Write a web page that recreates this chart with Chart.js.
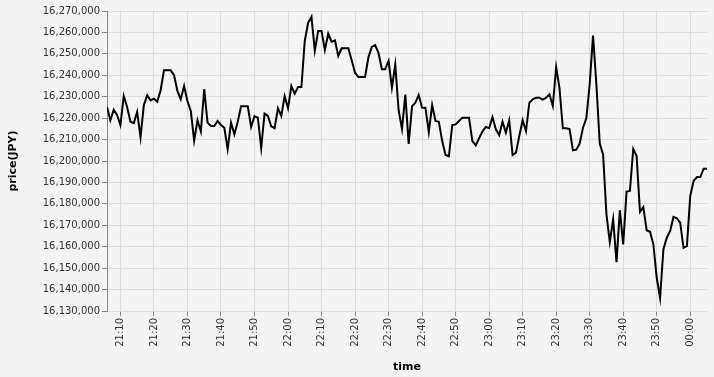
<!DOCTYPE html>
<html lang="ja">
<head>
  <meta charset="UTF-8" />
  <title>price(JPY)</title>
  <script src="https://cdn.jsdelivr.net/npm/chart.js"></script>
  <style>
    html, body {
      margin: 0;
      padding: 0;
      background: #f4f4f4;
      overflow: hidden;
    }
    canvas {
      display: block;
      background: #f4f4f4;
    }
  </style>
</head>
<body>
  <canvas id="chart" width="714" height="377"></canvas>

  <script>
    // 1分ごとの価格（21:06 から 00:05 まで）
    const startTime = '21:06';
    const prices = [
      16225200, 16219000, 16223900, 16221500, 16216800, 16230300, 16225200, 16218300, 16217700, 16223000,
      16211000, 16226100, 16230700, 16228300, 16229100, 16227700, 16233000, 16242300, 16242300, 16242300,
      16240100, 16232700, 16228800, 16235000, 16228000, 16223300, 16209500, 16219000, 16213700, 16233500,
      16217900, 16216300, 16216300, 16218700, 16216800, 16215500, 16205500, 16217900, 16212500, 16218300,
      16225500, 16225500, 16225500, 16215900, 16220900, 16220200, 16206000, 16222100, 16221000, 16216200,
      16215300, 16224600, 16221000, 16230300, 16224600, 16235000, 16231400, 16234500, 16234500, 16256000,
      16264500, 16267300, 16251500, 16260700, 16260700, 16251800, 16259400, 16255700, 16256300, 16249000,
      16252600, 16252600, 16252600, 16247000, 16241200, 16239200, 16239200, 16239200, 16248500, 16253200,
      16254100, 16250500, 16242800, 16242800, 16246700, 16234200, 16245000, 16223700, 16215000, 16231000,
      16208000, 16225500, 16227200, 16230800, 16224900, 16224900, 16213500, 16226100, 16218700, 16218300,
      16209300, 16202800, 16202200, 16216800, 16217100, 16218700, 16220200, 16220200, 16220200, 16209300,
      16207300, 16210600, 16213700, 16215900, 16215300, 16220500, 16214800, 16212100, 16218300, 16213200,
      16219000, 16202800, 16203900, 16211700, 16219000, 16214000, 16227200, 16228800, 16229500, 16229500,
      16228600, 16229500, 16231100, 16225700, 16243800, 16233900, 16215300, 16215300, 16214900, 16205000,
      16205300, 16208100, 16215500, 16219900, 16235800, 16258500, 16235800, 16208100, 16203100, 16175100,
      16162200, 16172800, 16152800, 16177000, 16161100, 16185700, 16186000, 16205600, 16202300, 16176300,
      16178500, 16167700, 16167000, 16161100, 16145500, 16136000, 16158800, 16164200, 16167300, 16173900,
      16173300, 16171200, 16159500, 16160300, 16183700, 16190700, 16192500, 16192500, 16196400, 16196400
    ];

    // x軸の目盛りラベル
    const xTickLabels = [
      '21:10', '21:20', '21:30', '21:40', '21:50', '22:00', '22:10', '22:20', '22:30',
      '22:40', '22:50', '23:00', '23:10', '23:20', '23:30', '23:40', '23:50', '00:00'
    ];
    const yMin = 16130000;
    const yMax = 16270000;
    const yStep = 10000;

    // "HH:MM" → 開始時刻からの分数（日付またぎ対応）
    function toMinutes(label) {
      const [h, m] = label.split(':').map(Number);
      return (h < 12 ? h + 24 : h) * 60 + m;
    }
    const start = toMinutes(startTime);
    const tickMap = {};
    xTickLabels.forEach(l => { tickMap[toMinutes(l) - start] = l; });

    const points = prices.map((p, i) => ({ x: i, y: p }));

    new Chart(document.getElementById('chart').getContext('2d'), {
      type: 'line',
      data: {
        datasets: [{
          data: points,
          borderColor: '#000',
          borderWidth: 2,
          pointRadius: 0,
          tension: 0,
          fill: false
        }]
      },
      options: {
        responsive: false,
        animation: false,
        layout: { padding: { top: 11, right: 7, left: 0, bottom: 0 } },
        scales: {
          x: {
            type: 'linear',
            min: 0,
            max: prices.length - 1,
            afterBuildTicks: s => {
              s.ticks = xTickLabels.map(l => ({ value: toMinutes(l) - start }));
            },
            afterFit: s => { s.height = 66; },
            ticks: {
              autoSkip: false,
              minRotation: 90,
              maxRotation: 90,
              padding: 2,
              color: '#333',
              font: { family: 'DejaVu Sans', size: 10 },
              callback: v => tickMap[v] ?? ''
            },
            grid: { color: '#ddd', tickColor: '#888', tickLength: 5 },
            border: { display: false },
            title: {
              display: true,
              text: 'time',
              color: '#000',
              padding: { top: 0, bottom: 3 },
              font: { family: 'DejaVu Sans', size: 11, weight: 'bold' }
            }
          },
          y: {
            min: yMin,
            max: yMax,
            afterFit: s => { s.width = 107; },
            ticks: {
              stepSize: yStep,
              padding: 2,
              color: '#333',
              font: { family: 'DejaVu Sans', size: 10 },
              callback: v => v.toLocaleString('en-US')
            },
            grid: { color: '#ddd', tickColor: '#888', tickLength: 5 },
            border: { color: '#888', width: 1 },
            title: {
              display: true,
              text: 'price(JPY)',
              color: '#000',
              padding: { top: 7, bottom: 6 },
              font: { family: 'DejaVu Sans', size: 11, weight: 'bold' }
            }
          }
        },
        plugins: {
          legend: { display: false },
          tooltip: { enabled: false }
        }
      }
    });
  </script>
</body>
</html>
